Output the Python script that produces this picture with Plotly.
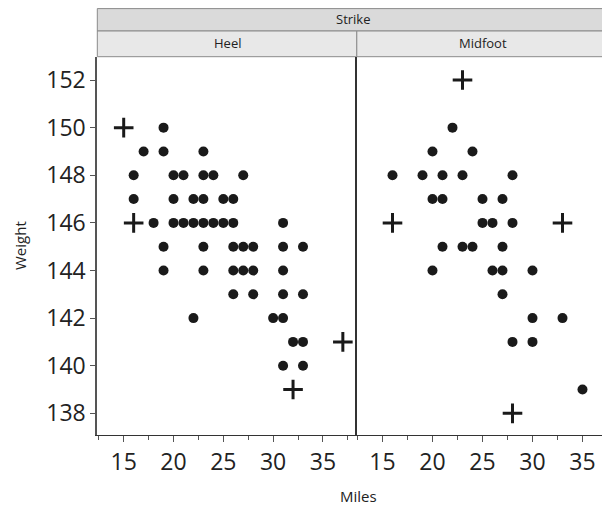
import plotly.graph_objects as go

# ---- data ----
heel_dot_miles = [19,
                  17, 19, 23,
                  16, 20, 21, 23, 24, 27,
                  16, 20, 22, 23, 25, 26,
                  18, 20, 21, 22, 23, 24, 25, 26, 31,
                  19, 23, 26, 27, 28, 31, 33,
                  19, 23, 26, 27, 28, 31,
                  26, 28, 31, 33,
                  22, 30, 31,
                  32, 33,
                  31, 33]
heel_dot_weight = [150,
                   149, 149, 149,
                   148, 148, 148, 148, 148, 148,
                   147, 147, 147, 147, 147, 147,
                   146, 146, 146, 146, 146, 146, 146, 146, 146,
                   145, 145, 145, 145, 145, 145, 145,
                   144, 144, 144, 144, 144, 144,
                   143, 143, 143, 143,
                   142, 142, 142,
                   141, 141,
                   140, 140]
heel_cross_miles = [15, 16, 37, 32]
heel_cross_weight = [150, 146, 141, 139]

mid_dot_miles = [22,
                 20, 24,
                 16, 19, 21, 23, 28,
                 20, 21, 25, 27,
                 25, 26, 28,
                 21, 23, 24, 27,
                 20, 26, 27, 30,
                 27,
                 30, 33,
                 28, 30,
                 35]
mid_dot_weight = [150,
                  149, 149,
                  148, 148, 148, 148, 148,
                  147, 147, 147, 147,
                  146, 146, 146,
                  145, 145, 145, 145,
                  144, 144, 144, 144,
                  143,
                  142, 142,
                  141, 141,
                  139]
mid_cross_miles = [23, 16, 33, 28]
mid_cross_weight = [152, 146, 146, 138]

x_ticks = [15, 20, 25, 30, 35]
y_ticks = [138, 140, 142, 144, 146, 148, 150, 152]
panels = ["Heel", "Midfoot"]
group_title = "Strike"

# ---- layout helpers (page pixel -> paper); page body has an 8px margin ----
OFF = 8
W, H = 610 - OFF, 512 - OFF
def px(x):
    return (x - OFF) / W
def py(y):
    return 1 - (y - OFF) / H

FONT = "Open Sans"
DOT = dict(symbol="circle", size=10, color="#1a1a1a")
CROSS = dict(symbol="cross-thin", size=14, color="#1a1a1a",
             line=dict(width=3, color="#1a1a1a"))

fig = go.Figure()
fig.add_trace(go.Scatter(x=heel_dot_miles, y=heel_dot_weight, mode="markers",
                         marker=DOT, xaxis="x", yaxis="y"))
fig.add_trace(go.Scatter(x=heel_cross_miles, y=heel_cross_weight, mode="markers",
                         marker=CROSS, xaxis="x", yaxis="y"))
fig.add_trace(go.Scatter(x=mid_dot_miles, y=mid_dot_weight, mode="markers",
                         marker=DOT, xaxis="x2", yaxis="y2"))
fig.add_trace(go.Scatter(x=mid_cross_miles, y=mid_cross_weight, mode="markers",
                         marker=CROSS, xaxis="x2", yaxis="y2"))

left0, mid, right1 = 97.3, 356.8, 610
top, bottom = 56.7, 435

tickfont = dict(family=FONT, size=23, color="#222222")
xcommon = dict(tickvals=x_ticks, ticks="outside", ticklen=6, tickwidth=1,
               tickcolor="#555555", showline=True, linecolor="#333333",
               linewidth=1, showgrid=False, zeroline=False, tickfont=tickfont,
               minor=dict(dtick=2.5, tick0=0, ticks="outside", ticklen=4,
                          tickcolor="#555555", showgrid=False))

fig.update_layout(
    width=W, height=H,
    margin=dict(l=0, r=0, t=0, b=0),
    paper_bgcolor="white", plot_bgcolor="white",
    showlegend=False,
    xaxis=dict(domain=[px(left0), px(mid)], range=[12.35, 38.4], anchor="y", **xcommon),
    xaxis2=dict(domain=[px(mid), px(right1)], range=[12.43, 37.75], anchor="y2", **xcommon),
    yaxis=dict(domain=[py(bottom), py(top)], range=[137.09, 152.98], anchor="x",
               tickvals=y_ticks, ticks="outside", ticklen=5, tickcolor="#555555",
               showline=True, linecolor="#555555", linewidth=2,
               showgrid=False, zeroline=False, tickfont=tickfont),
    yaxis2=dict(domain=[py(bottom), py(top)], range=[137.09, 152.98], anchor="x2",
                showticklabels=False, ticks="", showline=True,
                linecolor="#333333", linewidth=2, showgrid=False, zeroline=False),
)

# strips
strip_line = dict(color="#8a8a8a", width=1)
fig.add_shape(type="rect", xref="paper", yref="paper",
              x0=px(left0), x1=px(right1) + 0.01, y0=py(31), y1=py(8.6),
              fillcolor="#dadada", line=strip_line, layer="below")
fig.add_shape(type="rect", xref="paper", yref="paper",
              x0=px(left0), x1=px(mid), y0=py(top), y1=py(31),
              fillcolor="#e8e8e8", line=strip_line, layer="below")
fig.add_shape(type="rect", xref="paper", yref="paper",
              x0=px(mid), x1=px(right1) + 0.01, y0=py(top), y1=py(31),
              fillcolor="#e8e8e8", line=strip_line, layer="below")

stripfont = dict(family=FONT, size=13, color="#222222")
fig.add_annotation(text=group_title, xref="paper", yref="paper",
                   x=px((left0 + right1) / 2), y=py(19), showarrow=False,
                   font=stripfont, xanchor="center", yanchor="middle")
fig.add_annotation(text=panels[0], xref="paper", yref="paper",
                   x=px((left0 + mid) / 2), y=py(43.5), showarrow=False,
                   font=stripfont, xanchor="center", yanchor="middle")
fig.add_annotation(text=panels[1], xref="paper", yref="paper",
                   x=px((mid + right1) / 2), y=py(43.5), showarrow=False,
                   font=stripfont, xanchor="center", yanchor="middle")

titlefont = dict(family=FONT, size=15, color="#222222")
fig.add_annotation(text="Miles", xref="paper", yref="paper",
                   x=px(358), y=py(496), showarrow=False, font=titlefont,
                   xanchor="center", yanchor="middle")
fig.add_annotation(text="Weight", xref="paper", yref="paper",
                   x=px(20), y=py(246), showarrow=False, font=titlefont,
                   textangle=-90, xanchor="center", yanchor="middle")

fig.write_html("out.html")
